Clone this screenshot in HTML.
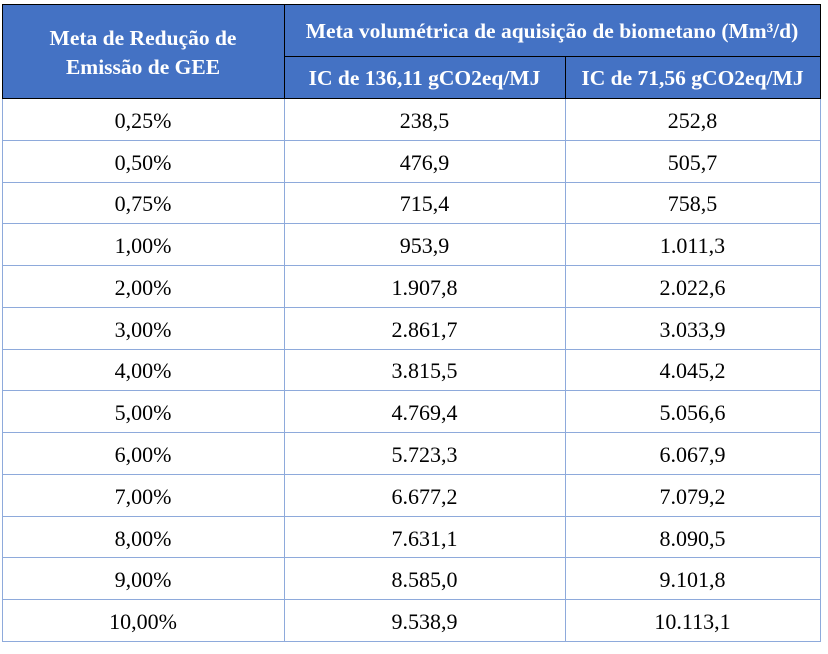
<!DOCTYPE html>
<html><head><meta charset="utf-8"><style>
body{margin:0;width:828px;height:654px;background:#fff;position:relative;font-family:"Liberation Serif",serif;}
.c{position:absolute;display:flex;align-items:center;justify-content:center;text-align:center;box-sizing:border-box;white-space:nowrap;}
.h{background:#4472C4;color:#fff;font-weight:bold;font-size:21.5px;line-height:29px;}
.d{font-size:22px;color:#000;}
.vl{position:absolute;background:#8EAADB;width:1px;}
.hl{position:absolute;background:#8EAADB;height:1px;}
.bl{position:absolute;background:#000;}
</style></head><body>
<div class="c h" style="left:2px;top:4px;width:282px;height:94px;padding-top:4px">Meta de Redução de<br>Emissão de GEE</div>
<div class="c h" style="left:284px;top:4px;width:536px;height:52px;padding-top:2px">Meta volumétrica de aquisição de biometano (Mm³/d)</div>
<div class="c h" style="left:284px;top:56px;width:281px;height:42px;padding-top:2px">IC de 136,11 gCO2eq/MJ</div>
<div class="c h" style="left:565px;top:56px;width:255px;height:42px;padding-top:2px">IC de 71,56 gCO2eq/MJ</div>
<div class="bl" style="left:2px;top:4px;width:819px;height:1px"></div>
<div class="bl" style="left:2px;top:98px;width:819px;height:1px"></div>
<div class="bl" style="left:2px;top:4px;width:1px;height:95px"></div>
<div class="bl" style="left:820px;top:4px;width:1px;height:95px"></div>
<div class="bl" style="left:284px;top:4px;width:1px;height:95px"></div>
<div class="bl" style="left:565px;top:56px;width:1px;height:43px"></div>
<div class="bl" style="left:284px;top:56px;width:537px;height:1px"></div>
<div id="rows"></div>
<script>
var d=[["0,25%","238,5","252,8"],["0,50%","476,9","505,7"],["0,75%","715,4","758,5"],["1,00%","953,9","1.011,3"],["2,00%","1.907,8","2.022,6"],["3,00%","2.861,7","3.033,9"],["4,00%","3.815,5","4.045,2"],["5,00%","4.769,4","5.056,6"],["6,00%","5.723,3","6.067,9"],["7,00%","6.677,2","7.079,2"],["8,00%","7.631,1","8.090,5"],["9,00%","8.585,0","9.101,8"],["10,00%","9.538,9","10.113,1"]];
var h="",rh=41.77,cols=[[2,282],[284,281],[565,255]];
d.forEach(function(r,i){var t=99+i*rh;
r.forEach(function(v,j){h+='<div class="c d" style="left:'+cols[j][0]+'px;top:'+(t+1)+'px;width:'+cols[j][1]+'px;height:'+rh+'px">'+v+'</div>';});
h+='<div class="hl" style="left:2px;top:'+Math.round(t+rh-1)+'px;width:819px"></div>';});
[2,284,565,820].forEach(function(x){h+='<div class="vl" style="left:'+x+'px;top:99px;height:543px"></div>';});
document.getElementById("rows").innerHTML=h;
</script>
</body></html>
